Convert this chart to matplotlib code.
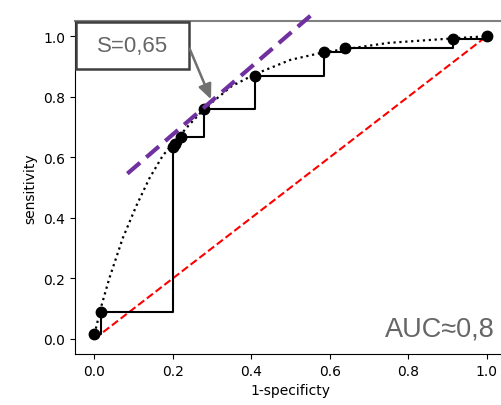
import matplotlib.pyplot as plt
from matplotlib.patches import Rectangle

# puntos de la curva ROC empirica
fpr = [0.0, 0.018, 0.2, 0.205, 0.22, 0.28, 0.41, 0.585, 0.64, 0.915, 1.0]
tpr = [0.015, 0.09, 0.635, 0.645, 0.668, 0.76, 0.87, 0.947, 0.962, 0.99, 1.0]

# curva suavizada
fit_x = [0.0, 0.018, 0.038, 0.072, 0.107, 0.14, 0.174, 0.2, 0.24, 0.28,
         0.35, 0.41, 0.5, 0.585, 0.75, 0.915, 1.0]
fit_y = [0.015, 0.11, 0.2, 0.332, 0.44, 0.53, 0.605, 0.645, 0.705, 0.76,
         0.835, 0.875, 0.922, 0.947, 0.978, 0.993, 1.0]

# tangente en el punto optimo
tan_x = [0.084, 0.552]
tan_y = [0.546, 1.069]

diag = [0.0, 1.0]
s_label = "S=0,65"
auc_label = "AUC≈0,8"

fig = plt.figure(figsize=(5.02, 4.06), dpi=100)
ax = fig.add_axes([0.149, 0.1256, 0.8596, 0.820])

ax.plot(diag, diag, color='red', linestyle='--', linewidth=1.5)
ax.plot(fit_x, fit_y, color='black', linestyle=':', linewidth=1.6)
ax.plot(fpr, tpr, color='black', drawstyle='steps-post', linewidth=1.5)
ax.plot(fpr, tpr, 'o', color='black', markersize=7.5)
ax.plot(tan_x, tan_y, color='#7030A0', linestyle=(0, (4, 2)), linewidth=3,
        clip_on=False, zorder=4)

ax.set_xlim(-0.05, 1.05)
ax.set_ylim(-0.05, 1.05)
ax.set_xlabel('1-specificty')
ax.set_ylabel('sensitivity')
ax.spines['top'].set_color('#808080')
ax.spines['top'].set_linewidth(1.5)

# recuadro con la pendiente
box = Rectangle((0.002, 0.857), 0.262, 0.14, transform=ax.transAxes,
                facecolor='white', edgecolor='#404040', linewidth=1.8,
                clip_on=False, zorder=5)
ax.add_patch(box)
ax.text(0.133, 0.927, s_label, transform=ax.transAxes, ha='center', va='center',
        fontsize=16, color='#666666', family='Liberation Sans', zorder=6)
ax.annotate('', xy=(0.3, 0.783), xytext=(0.24, 0.967),
            arrowprops=dict(arrowstyle='-|>,head_width=0.4,head_length=0.9',
                            color='#707070', linewidth=1.8), zorder=6)

ax.text(1.02, 0.01, auc_label, ha='right', va='baseline', fontsize=19.5,
        color='#666666', family='Liberation Sans')

fig.savefig('out.png', dpi=100)
